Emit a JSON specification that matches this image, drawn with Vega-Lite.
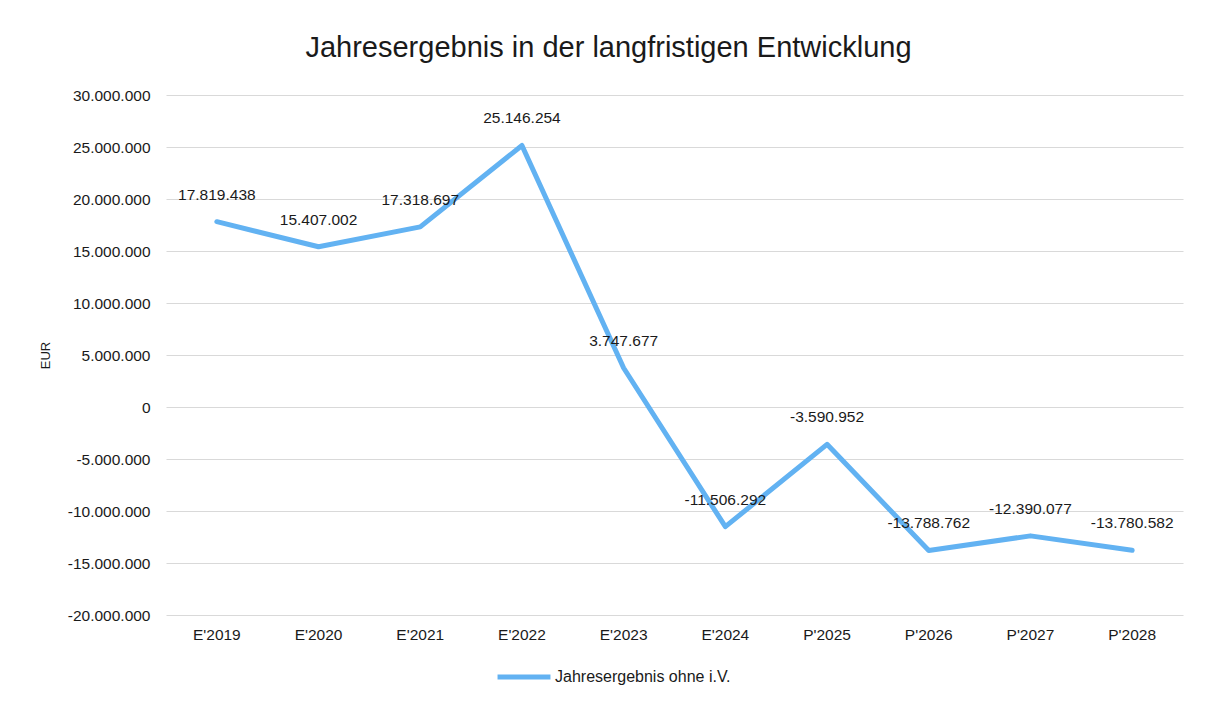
{
  "$schema": "https://vega.github.io/schema/vega-lite/v6.json",
  "autosize": {"type": "none"},
  "padding": {"left": 166, "top": 95, "right": 23, "bottom": 89},
  "width": 1017,
  "height": 520,
  "background": "white",
  "title": {"text": "Jahresergebnis in der langfristigen Entwicklung", "fontSize": 29, "font": "Liberation Sans", "fontWeight": "normal", "color": "#1a1a1a", "anchor": "middle", "dx": -66, "offset": 25},
  "config": {
    "locale": {"number": {"decimal": ",", "thousands": ".", "grouping": [3], "currency": ["", " €"], "minus": "-"}},
    "view": {"stroke": null},
    "font": "Liberation Sans"
  },
  "data": {"values": [
    {"Jahr": "E'2019", "Wert": 17819438, "Serie": "Jahresergebnis ohne i.V."},
    {"Jahr": "E'2020", "Wert": 15407002, "Serie": "Jahresergebnis ohne i.V."},
    {"Jahr": "E'2021", "Wert": 17318697, "Serie": "Jahresergebnis ohne i.V."},
    {"Jahr": "E'2022", "Wert": 25146254, "Serie": "Jahresergebnis ohne i.V."},
    {"Jahr": "E'2023", "Wert": 3747677, "Serie": "Jahresergebnis ohne i.V."},
    {"Jahr": "E'2024", "Wert": -11506292, "Serie": "Jahresergebnis ohne i.V."},
    {"Jahr": "P'2025", "Wert": -3590952, "Serie": "Jahresergebnis ohne i.V."},
    {"Jahr": "P'2026", "Wert": -13788762, "Serie": "Jahresergebnis ohne i.V."},
    {"Jahr": "P'2027", "Wert": -12390077, "Serie": "Jahresergebnis ohne i.V."},
    {"Jahr": "P'2028", "Wert": -13780582, "Serie": "Jahresergebnis ohne i.V."}
  ]},
  "encoding": {
    "x": {"field": "Jahr", "type": "ordinal", "sort": null,
      "scale": {"type": "band", "paddingInner": 0, "paddingOuter": 0},
      "axis": {"title": null, "labelAngle": 0, "domain": false, "ticks": false, "labelPadding": 12, "labelFontSize": 15.5, "labelColor": "#1a1a1a", "grid": false}},
    "y": {"field": "Wert", "type": "quantitative",
      "scale": {"domain": [-20000000, 30000000], "nice": false, "zero": false},
      "axis": {"title": "EUR", "titleFontSize": 13, "titleFontWeight": "normal", "titleColor": "#1a1a1a", "titlePadding": 15,
        "values": [-20000000, -15000000, -10000000, -5000000, 0, 5000000, 10000000, 15000000, 20000000, 25000000, 30000000],
        "format": ",.0f", "domain": false, "ticks": false, "labelPadding": 16, "labelFontSize": 15.5, "labelColor": "#1a1a1a",
        "gridColor": "#d9d9d9", "gridWidth": 1}}
  },
  "layer": [
    {"mark": {"type": "line", "strokeWidth": 5, "strokeCap": "round", "strokeJoin": "round"},
      "encoding": {"color": {"field": "Serie", "type": "nominal", "scale": {"range": ["#62b2f2"]},
        "legend": {"title": null, "orient": "none", "legendX": 329, "legendY": 553, "symbolType": "stroke", "symbolStrokeWidth": 5, "symbolSize": 2800, "labelFontSize": 16, "labelLimit": 0, "labelColor": "#1a1a1a", "labelOffset": 2}}}},
    {"mark": {"type": "text", "dy": -27, "fontSize": 15.5, "color": "#1a1a1a", "baseline": "middle"},
      "encoding": {"text": {"field": "Wert", "type": "quantitative", "format": ",.0f"}}}
  ]
}
